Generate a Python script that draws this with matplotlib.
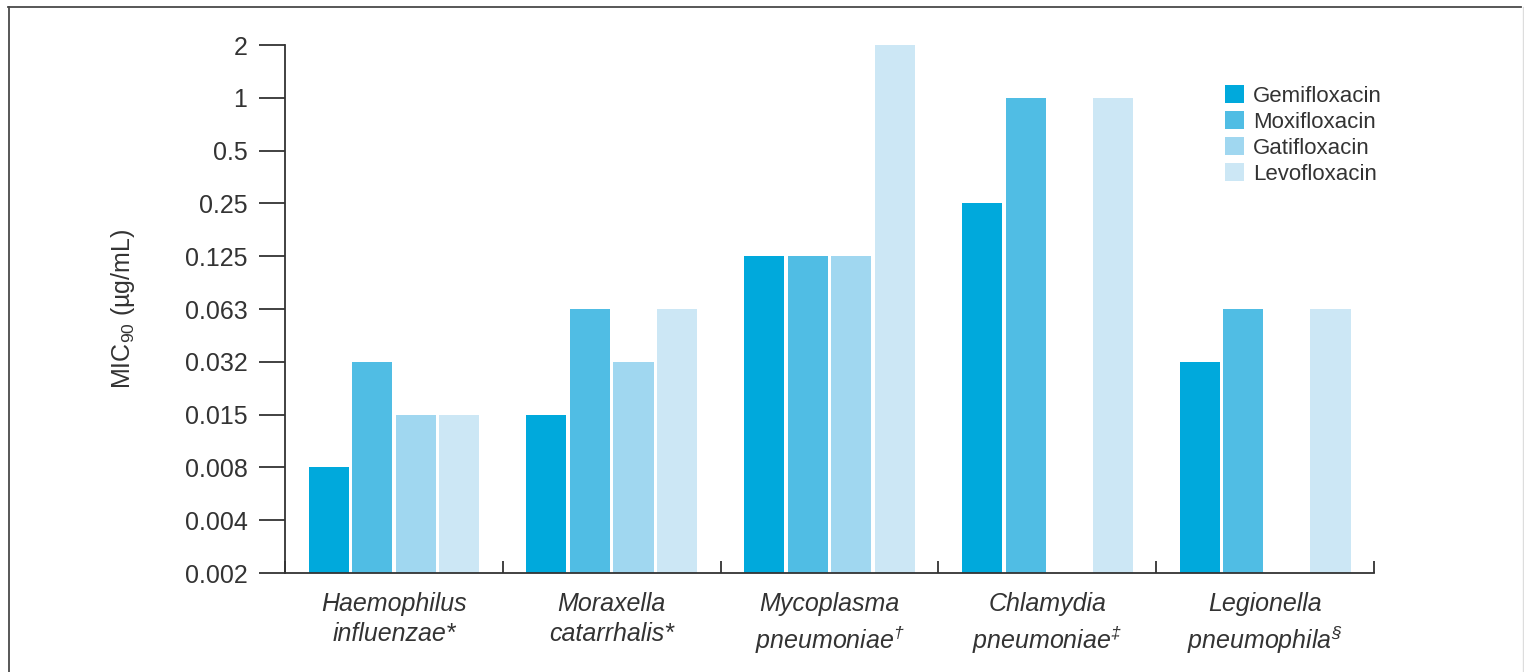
import numpy as np
import matplotlib
matplotlib.use("Agg")
import matplotlib.pyplot as plt
from matplotlib.lines import Line2D
from matplotlib.ticker import FixedLocator, NullLocator

plt.rcParams["font.family"] = ["Liberation Sans", "DejaVu Sans"]
plt.rcParams["mathtext.fontset"] = "custom"
plt.rcParams["mathtext.rm"] = "Liberation Sans"
plt.rcParams["mathtext.it"] = "Liberation Sans:italic"

organisms = [
    "Haemophilus\ninfluenzae*",
    "Moraxella\ncatarrhalis*",
    "Mycoplasma\npneumoniae$^{\\mathregular{†}}$",
    "Chlamydia\npneumoniae$^{\\mathregular{‡}}$",
    "Legionella\npneumophila$^{\\mathregular{§}}$",
]
drugs = ["Gemifloxacin", "Moxifloxacin", "Gatifloxacin", "Levofloxacin"]
colors = ["#00a9dc", "#50bde4", "#a0d7f0", "#cce7f5"]

# MIC90 values (µg/mL), one list per drug, in organism order; nan = not tested
gemifloxacin = [0.008, 0.015, 0.125, 0.25, 0.032]
moxifloxacin = [0.032, 0.063, 0.125, 1, 0.063]
gatifloxacin = [0.015, 0.032, 0.125, np.nan, np.nan]
levofloxacin = [0.015, 0.063, 2, 1, 0.063]
series = [gemifloxacin, moxifloxacin, gatifloxacin, levofloxacin]

tick_values = [0.002, 0.004, 0.008, 0.015, 0.032, 0.063, 0.125, 0.25, 0.5, 1, 2]
tick_labels = ["0.002", "0.004", "0.008", "0.015", "0.032", "0.063",
               "0.125", "0.25", "0.5", "1", "2"]

# doubling-dilution axis: each labelled concentration is one equal step
log_ticks = np.log(tick_values)
steps = np.arange(len(tick_values), dtype=float)


def forward(v):
    with np.errstate(divide="ignore", invalid="ignore"):
        lv = np.log(np.clip(np.asarray(v, dtype=float), 1e-12, None))
    return np.interp(lv, log_ticks, steps, left=-1, right=len(steps))


def inverse(y):
    return np.exp(np.interp(y, steps, log_ticks))


fig = plt.figure(figsize=(15.24, 6.72), dpi=100)
ax = fig.add_axes([0.187, 0.1473, 0.7146, 0.7857])
ax.set_yscale("function", functions=(forward, inverse))

base = tick_values[0]
centers = np.arange(len(organisms)) + 0.5
width = 0.184
for k, (vals, col, name) in enumerate(zip(series, colors, drugs)):
    vals = np.array(vals, dtype=float)
    ax.bar(centers + (k - 1.5) * 0.2, vals - base, bottom=base, width=width,
           color=col, label=name, linewidth=0)

ax.set_xlim(0, len(organisms))
ax.set_ylim(tick_values[0], tick_values[-1])

ax.yaxis.set_major_locator(FixedLocator(tick_values))
ax.set_yticklabels(tick_labels)
ax.yaxis.set_minor_locator(NullLocator())
ax.set_xticks(np.arange(len(organisms) + 1))
ax.set_xticklabels([])
ax.set_xticks(centers, minor=True)
ax.set_xticklabels(organisms, minor=True, fontstyle="italic", fontsize=18,
                   linespacing=1.3)

text_col = "#333333"
ax.tick_params(axis="y", direction="out", length=19, width=1.3,
               color=text_col, labelsize=18, labelcolor=text_col, pad=8)
ax.tick_params(axis="x", which="major", direction="in", length=9, width=1.3,
               color=text_col)
ax.tick_params(axis="x", which="minor", length=0, pad=14, labelcolor=text_col)

for side in ["top", "right"]:
    ax.spines[side].set_visible(False)
for side in ["left", "bottom"]:
    ax.spines[side].set_color(text_col)
    ax.spines[side].set_linewidth(1.3)

ax.set_ylabel("MIC$_{\\mathregular{90}}$ (µg/mL)", fontsize=18,
              color=text_col, labelpad=34)

ax.legend(loc="upper left", bbox_to_anchor=(0.853, 0.945), frameon=False,
          fontsize=16, handlelength=0.85, handleheight=0.85,
          handletextpad=0.4, labelspacing=0.2, borderpad=0,
          labelcolor=text_col)

# page frame around the figure
fig.add_artist(Line2D([8 / 1524, 1521 / 1524], [1 - 6.5 / 672, 1 - 6.5 / 672],
                      color="#4a4a4a", linewidth=1.3))
fig.add_artist(Line2D([8.5 / 1524, 8.5 / 1524], [0, 1 - 6.5 / 672],
                      color="#4a4a4a", linewidth=1.3))
fig.add_artist(Line2D([1523 / 1524, 1523 / 1524], [0, 1 - 6.5 / 672],
                      color="#dddddd", linewidth=1))

fig.savefig("out.png", dpi=100)
